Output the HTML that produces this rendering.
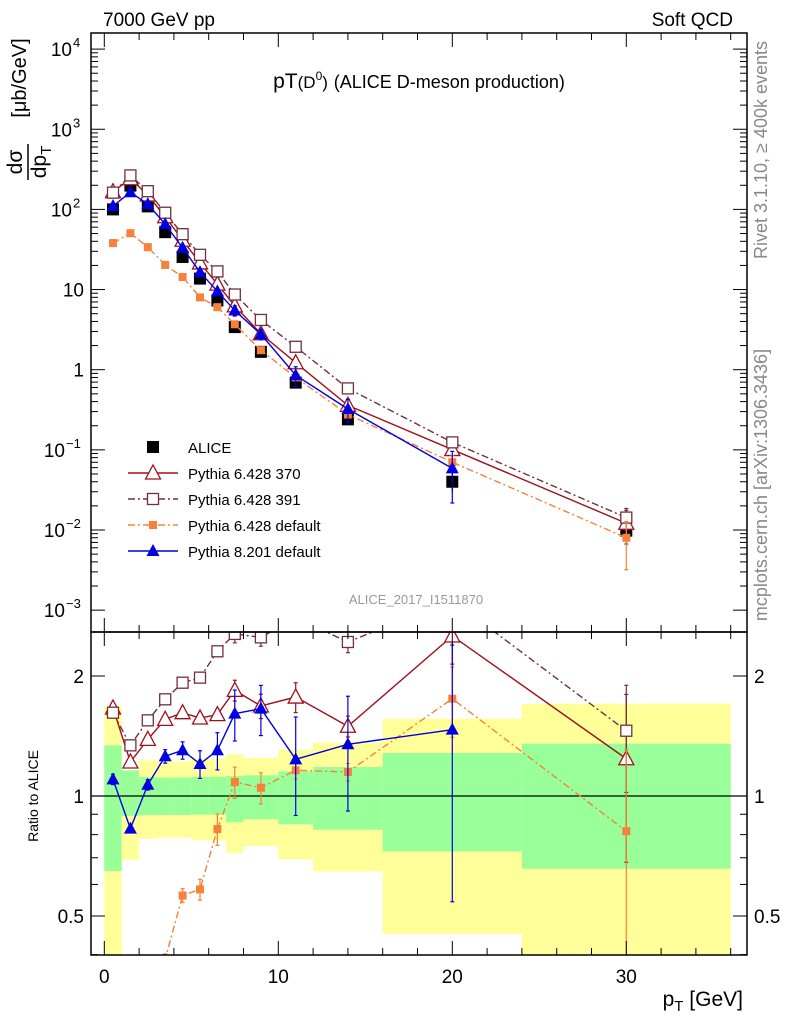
<!DOCTYPE html>
<html><head><meta charset="utf-8"><style>
html,body{margin:0;padding:0;background:#fff;}
svg{display:block;font-family:"Liberation Sans",sans-serif;}
</style></head><body>
<svg id="c" width="786" height="1024" viewBox="0 0 786 1024" xmlns="http://www.w3.org/2000/svg"></svg>
<script>
const xBins=[0.5,1.5,2.5,3.5,4.5,5.5,6.5,7.5,9,11,14,20,30];
const aliceVals=[100,198,109,52,25.5,13.7,7.3,3.4,1.67,0.69,0.24,0.040,0.0098];
const aliceErr=[0.12,0.1,0.1,0.1,0.1,0.1,0.1,0.1,0.12,0.12,0.15,0.25,0.3];
const bandEdges=[0,1,2,3,4,5,6,7,8,10,12,16,24,36];
const yellowHi=[1.68,1.16,1.229,1.222,1.222,1.24,1.24,1.272,1.246,1.307,1.361,1.563,1.704];
const greenHi=[1.34,1.16,1.116,1.112,1.112,1.118,1.118,1.122,1.127,1.153,1.182,1.282,1.353];
const greenLo=[0.648,0.891,0.895,0.896,0.896,0.898,0.898,0.86,0.874,0.849,0.823,0.726,0.657];
const yellowLo=[0.3,0.692,0.781,0.786,0.786,0.774,0.774,0.719,0.749,0.694,0.647,0.451,0.3];
const r370=[1.663,1.217,1.387,1.557,1.618,1.569,1.6,1.841,1.682,1.771,1.496,2.52,1.24];
const e370=[0.03,0.03,0.03,0.03,0.03,0.03,0.03,0.06,0.07,0.086,0.06,0.15,0.45];
const r391=[1.618,1.34,1.548,1.748,1.924,1.981,2.307,2.55,2.5,2.8,2.434,3.1,1.458];
const e391=[0.03,0.03,0.03,0.03,0.03,0.03,0.03,0.05,0.05,0.05,0.06,0.1,0.3];
const rDef=[0.38,0.255,0.31,0.39,0.563,0.583,0.826,1.084,1.049,1.16,1.149,1.754,0.816];
const eDef=[0.03,0.03,0.03,0.03,0.04,0.06,0.09,0.09,0.09,0.05,0.05,0.2,0.6];
const rP8=[1.101,0.828,1.067,1.258,1.302,1.203,1.302,1.609,1.656,1.236,1.348,1.467];
const eP8=[0.03,0.02,0.03,0.039,0.05,0.08,0.107,0.146,0.144,0.277,0.32,0.63];
const yTickLabels=["4","3","2","1","0","-1","-2","-3"];
const xTickLabels=[0,10,20,30];

const NS="http://www.w3.org/2000/svg";
const svg=document.getElementById('c');
const L=91,R=747,T=33,MB=632,RB=955;
const X=v=>104.3+v*17.4;
const Y=v=>369.7-80.15*Math.log10(v);
const YR=r=>796-120*Math.log2(r);
function mk(tag,attrs,parent){const e=document.createElementNS(NS,tag);for(const k in attrs)e.setAttribute(k,attrs[k]);(parent||svg).appendChild(e);return e;}
function txt(s,x,y,size,anchor,fill,parent){const t=mk('text',{x:x,y:y,'font-size':size,'text-anchor':anchor||'start',fill:fill||'#000'},parent);t.textContent=s;return t;}

const defs=mk('defs',{});
const c1=mk('clipPath',{id:'cm'},defs);mk('rect',{x:L,y:T,width:R-L,height:MB-T},c1);
const c2=mk('clipPath',{id:'cr'},defs);mk('rect',{x:L,y:MB,width:R-L,height:RB-MB},c2);

const gBand=mk('g',{'clip-path':'url(#cr)'});


for(let i=0;i<bandEdges.length-1;i++){
  const x0=X(bandEdges[i]),x1=X(bandEdges[i+1]);
  const yb=mk('rect',{x:x0,y:YR(yellowHi[i]),width:x1-x0,height:YR(yellowLo[i])-YR(yellowHi[i]),fill:'#ffff99'},gBand);
  
  
  const gb=mk('rect',{x:x0,y:YR(greenHi[i]),width:x1-x0,height:YR(greenLo[i])-YR(greenHi[i]),fill:'#99ff99'},gBand);
  
  
}
mk('line',{x1:L,x2:R,y1:YR(1),y2:YR(1),stroke:'#000','stroke-width':1.3},gBand);

function marker(type,x,y,col,g){
  if(type==='sq'){mk('rect',{x:x-6,y:y-6,width:12,height:12,fill:'#000'},g);}
  else if(type==='tri'){mk('polygon',{points:`${x},${y-8} ${x-7.5},${y+6} ${x+7.5},${y+6}`,fill:'#fff',stroke:col,'stroke-width':1.3},g);}
  else if(type==='osq'){mk('rect',{x:x-5.5,y:y-5.5,width:11,height:11,fill:'#fff',stroke:col,'stroke-width':1.3},g);}
  else if(type==='fsq'){mk('rect',{x:x-4,y:y-4,width:8,height:8,fill:col},g);}
  else if(type==='ftri'){mk('polygon',{points:`${x},${y-7} ${x-6.5},${y+5} ${x+6.5},${y+5}`,fill:col},g);}
}
const series=[
  {name:'pythia-6428-370',r:r370,e:e370,col:'#a0101c',dash:'',m:'tri',label:'Pythia 6.428 370'},
  {name:'pythia-6428-391',r:r391,e:e391,col:'#70303e',dash:'7,3,2,3',m:'osq',label:'Pythia 6.428 391'},
  {name:'pythia-6428-default',r:rDef,e:eDef,col:'#f7803a',dash:'7,3,2,3',m:'fsq',label:'Pythia 6.428 default'},
  {name:'pythia-8201-default',r:rP8,e:eP8,col:'#0000e0',dash:'',m:'ftri',label:'Pythia 8.201 default'}
];
function drawSeries(s,ratio){
  const g=mk('g',{'clip-path':ratio?'url(#cr)':'url(#cm)'});
  
  
  const yf=i=>ratio?YR(s.r[i]):Y(s.r[i]*aliceVals[i]);
  const pts=s.r.map((v,i)=>`${X(xBins[i])},${yf(i)}`).join(' ');
  mk('polyline',{points:pts,fill:'none',stroke:s.col,'stroke-width':1.4,'stroke-dasharray':s.dash},g);
  s.r.forEach((v,i)=>{
    const x=X(xBins[i]);
    const base=ratio?v:v*aliceVals[i];
    const f=ratio?YR:Y;
    const lo=Math.max(base*(1-s.e[i]),base*0.05),hi=base*(1+s.e[i]);
    const y1=f(hi),y2=f(lo);
    if(y2-y1>10){mk('line',{x1:x,x2:x,y1:y1,y2:y2,stroke:s.col,'stroke-width':1.2},g);
      mk('line',{x1:x-2,x2:x+2,y1:y1,y2:y1,stroke:s.col,'stroke-width':1.2},g);
      mk('line',{x1:x-2,x2:x+2,y1:y2,y2:y2,stroke:s.col,'stroke-width':1.2},g);}
    marker(s.m,x,yf(i),s.col,g);
  });
}
series.forEach(s=>drawSeries(s,true));
const gA=mk('g',{'clip-path':'url(#cm)'});


aliceVals.forEach((v,i)=>{const x=X(xBins[i]);
  mk('line',{x1:x,x2:x,y1:Y(v*(1+aliceErr[i])),y2:Y(v*(1-aliceErr[i])),stroke:'#000','stroke-width':1.2},gA);
  marker('sq',x,Y(v),'#000',gA);});
series.forEach(s=>drawSeries(s,false));

const fr=mk('g',{});


mk('rect',{x:L,y:T,width:R-L,height:MB-T,fill:'none',stroke:'#000','stroke-width':1.5},fr);
mk('rect',{x:L,y:MB,width:R-L,height:RB-MB,fill:'none',stroke:'#000','stroke-width':1.5},fr);
for(let v=0;v<=36;v+=2){const x=X(v),len=v%10===0?14:7;
  [[T,1],[MB,-1],[MB,1],[RB,-1]].forEach(([y0,d])=>mk('line',{x1:x,x2:x,y1:y0,y2:y0+d*len,stroke:'#000','stroke-width':1},fr));}
xTickLabels.forEach(v=>{const t=txt(String(v),X(v),983,19,'middle');});
for(let d=-3;d<=4;d++){for(let k=1;k<=9;k++){const v=k*Math.pow(10,d);const y=Y(v);if(y<T||y>MB)continue;
  const len=k===1?14:7;mk('line',{x1:L,x2:L+len,y1:y,y2:y,stroke:'#000'},fr);mk('line',{x1:R,x2:R-len,y1:y,y2:y,stroke:'#000'},fr);}}
yTickLabels.forEach(e=>{const n=+e;const y=Y(Math.pow(10,n))+7;let t;
  if(n===0)t=txt('1',84,y,19,'end');
  else if(n===1)t=txt('10',84,y,19,'end');
  else{t=mk('text',{x:79,y:y,'font-size':19,'text-anchor':'end'});t.textContent='10';
    const s=txt(n<0?'\u2212'+(-n):String(n),80,y-9,13,'start');
    if(n<0){t.setAttribute('x',65);s.setAttribute('x',66);}else{t.setAttribute('x',72);s.setAttribute('x',73);}
    }
  });
[0.4,0.5,0.6,0.7,0.8,0.9,1,2].forEach(r=>{const y=YR(r);const len=(r===1||r===2||r===0.5)?14:7;
  mk('line',{x1:L,x2:L+len,y1:y,y2:y,stroke:'#000'},fr);mk('line',{x1:R,x2:R-len,y1:y,y2:y,stroke:'#000'},fr);});
[[2,'2'],[1,'1'],[0.5,'0.5']].forEach(([r,s])=>{
  const a=txt(s,84,YR(r)+7,19,'end');
  const b=txt(s,754,YR(r)+7,19,'start');});

let t;
t=txt('7000 GeV pp',103,26,19,'start');
t=txt('Soft QCD',733,26,19,'end');
t=mk('text',{x:419,y:88,'font-size':21,'text-anchor':'middle'});
t.innerHTML='pT<tspan font-size="17">(D</tspan><tspan font-size="12" dy="-8">0</tspan><tspan font-size="17" dy="8">)</tspan> <tspan font-size="18">(ALICE D-meson production)</tspan>';

t=txt('ALICE_2017_I1511870',416,604,13,'middle','#999');
t=mk('text',{x:0,y:0,'font-size':18,'text-anchor':'middle',fill:'#888',transform:'translate(767,150) rotate(-90)'});t.textContent='Rivet 3.1.10, \u2265 400k events';

t=mk('text',{x:0,y:0,'font-size':18,'text-anchor':'middle',fill:'#888',transform:'translate(767,485) rotate(-90)'});t.textContent='mcplots.cern.ch [arXiv:1306.3436]';

const yt=mk('g',{transform:'translate(30,162) rotate(-90)'});

txt('d\u03c3',0,-8,21,'middle','#000',yt);
mk('line',{x1:-18,x2:18,y1:-2,y2:-2,stroke:'#000','stroke-width':1.5},yt);
t=mk('text',{x:0,y:16,'font-size':21,'text-anchor':'middle'},yt);t.innerHTML='dp<tspan font-size="15" dy="5">T</tspan>';
txt('[\u03bcb/GeV]',84,-4,20,'middle','#000',yt);
t=mk('text',{x:0,y:0,'font-size':14,'text-anchor':'middle',transform:'translate(38,796) rotate(-90)'});t.textContent='Ratio to ALICE';

t=mk('text',{x:743,y:1006,'font-size':21,'text-anchor':'end'});t.innerHTML='p<tspan font-size="15" dy="5">T</tspan><tspan dy="-5"> [GeV]</tspan>';


const lg=mk('g',{});
const e0=mk('g',{},lg);
marker('sq',153,447,'#000',e0);txt('ALICE',188,453,15,'start','#000',e0);
series.forEach((s,i)=>{const y=473+i*26;const g=mk('g',{},lg);
  
  mk('line',{x1:128,x2:178,y1:y,y2:y,stroke:s.col,'stroke-width':1.4,'stroke-dasharray':s.dash},g);
  marker(s.m,153,y,s.col,g);txt(s.label,188,y+6,15,'start','#000',g);});
</script>
</body></html>
